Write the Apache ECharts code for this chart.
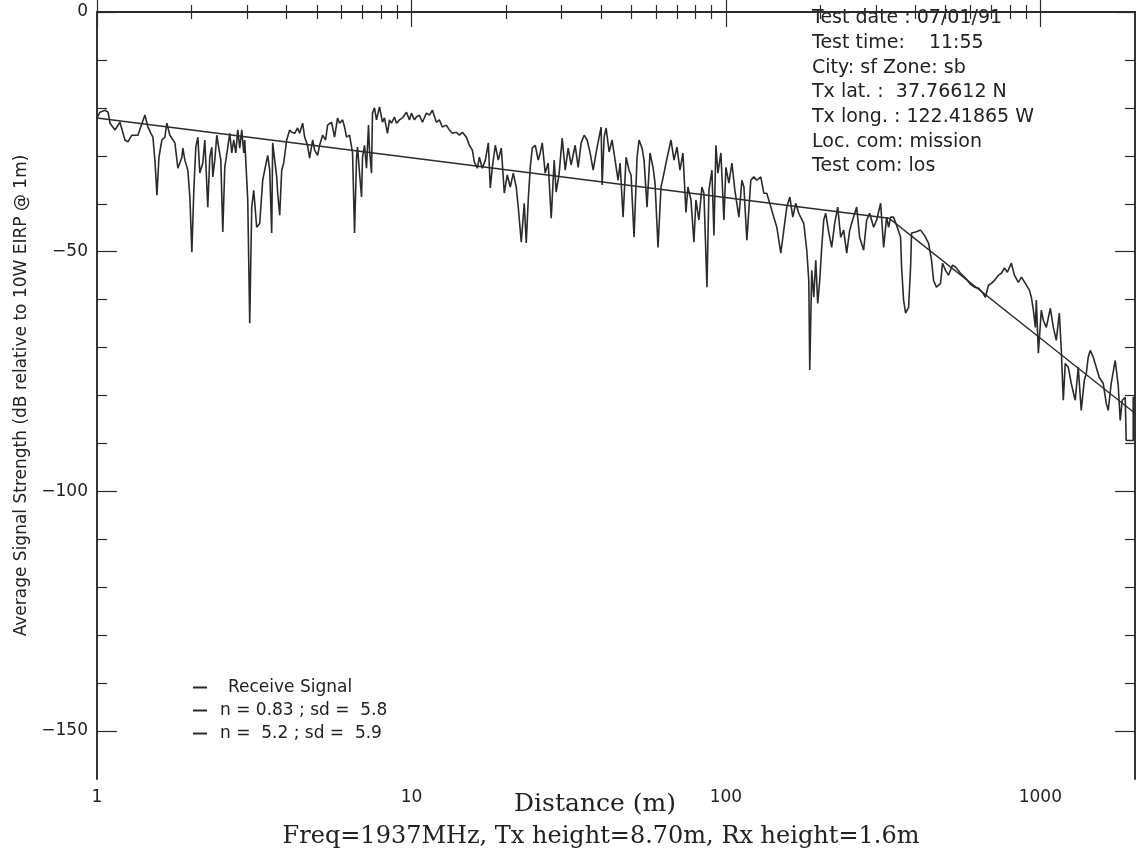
<!DOCTYPE html>
<html><head><meta charset="utf-8">
<script src="https://cdn.jsdelivr.net/npm/echarts@6/dist/echarts.min.js"></script>
<style>html,body{margin:0;padding:0;background:#fff}#c{width:1137px;height:848px}</style>
</head><body><div id="c"></div>
<script>
// Received signal: [distance (m), average signal strength (dB)]
const receiveSignal = [
[1.00,-22.1],[1.022,-20.9],[1.06,-20.5],[1.084,-20.9],[1.10,-23.2],[1.116,-23.0],[1.141,-24.6],[1.183,-23.0],
[1.227,-26.7],[1.254,-27.1],[1.291,-25.7],[1.349,-25.7],[1.42,-21.5],[1.452,-24.0],[1.484,-25.3],[1.506,-26.1],
[1.528,-30.9],[1.551,-38.2],[1.574,-30.3],[1.608,-26.7],[1.644,-26.1],[1.668,-23.2],[1.705,-25.7],[1.73,-25.3],
[1.769,-27.3],[1.808,-32.6],[1.862,-30.3],[1.875,-28.4],[1.903,-30.9],[1.945,-33.0],[1.974,-38.6],[2.003,-50.1],
[2.032,-37.2],[2.062,-28.2],[2.093,-26.1],[2.123,-33.6],[2.17,-31.5],[2.202,-26.7],[2.251,-40.7],[2.284,-30.3],
[2.318,-28.2],[2.335,-34.4],[2.369,-30.9],[2.404,-25.7],[2.44,-28.4],[2.476,-30.9],[2.512,-45.9],[2.549,-32.4],
[2.606,-28.2],[2.644,-25.3],[2.683,-29.4],[2.722,-26.7],[2.763,-29.4],[2.803,-24.6],[2.844,-28.4],[2.886,-24.6],
[2.929,-29.4],[2.95,-26.7],[3.016,-39.2],[3.06,-64.9],[3.105,-40.7],[3.151,-37.2],[3.22,-44.9],[3.292,-44.1],
[3.365,-35.1],[3.414,-33.0],[3.49,-29.9],[3.542,-33.0],[3.594,-46.1],[3.62,-27.3],[3.674,-30.9],[3.728,-34.4],
[3.755,-37.8],[3.811,-42.4],[3.867,-33.0],[3.924,-31.5],[4.011,-26.7],[4.10,-24.6],[4.16,-25.1],[4.253,-25.3],
[4.345,-24.2],[4.41,-25.3],[4.508,-23.2],[4.575,-26.1],[4.674,-27.8],[4.745,-30.5],[4.85,-26.7],[4.921,-28.8],
[5.03,-29.9],[5.104,-27.8],[5.218,-25.7],[5.333,-26.7],[5.412,-23.6],[5.572,-23.0],[5.695,-26.1],[5.822,-22.1],
[5.907,-23.2],[6.039,-22.5],[6.128,-24.0],[6.218,-26.1],[6.356,-25.7],[6.497,-29.4],[6.592,-46.1],[6.69,-30.3],
[6.739,-28.2],[6.838,-33.6],[6.939,-38.6],[6.989,-30.3],[7.092,-27.8],[7.196,-32.6],[7.302,-23.6],[7.356,-28.8],
[7.464,-33.6],[7.518,-21.1],[7.629,-20.0],[7.742,-22.5],[7.913,-19.8],[8.088,-23.0],[8.207,-22.1],[8.389,-25.3],
[8.513,-22.5],[8.638,-23.2],[8.831,-21.9],[8.962,-23.2],[9.161,-22.5],[9.363,-22.1],[9.641,-20.9],[9.856,-22.5],
[10.0,-21.1],[10.22,-22.5],[10.37,-21.9],[10.6,-21.5],[10.84,-23.0],[11.16,-21.1],[11.41,-21.5],[11.66,-20.5],
[12.0,-23.0],[12.27,-22.5],[12.54,-24.0],[12.91,-23.6],[13.2,-24.6],[13.49,-25.3],[13.9,-25.1],[14.2,-25.7],
[14.52,-25.1],[14.95,-26.1],[15.28,-27.8],[15.62,-28.8],[15.85,-31.3],[16.2,-32.6],[16.44,-30.3],[16.8,-32.6],
[17.18,-30.9],[17.56,-27.3],[17.81,-36.7],[18.08,-32.4],[18.48,-27.8],[18.89,-30.9],[19.31,-28.4],[19.74,-37.8],
[20.17,-34.0],[20.62,-36.5],[21.08,-33.6],[21.54,-36.5],[21.86,-40.7],[22.35,-48.0],[22.84,-39.9],[23.18,-48.2],
[23.52,-39.2],[23.87,-32.4],[24.22,-28.4],[24.76,-27.8],[25.3,-30.9],[25.68,-29.4],[26.06,-27.3],[26.63,-33.6],
[27.22,-31.5],[27.83,-43.0],[28.44,-30.9],[28.86,-37.6],[29.5,-33.6],[30.16,-26.3],[30.83,-33.0],[31.51,-28.4],
[32.2,-31.9],[33.16,-27.8],[33.9,-32.4],[34.65,-27.3],[35.42,-25.7],[36.2,-26.7],[37.01,-29.4],[37.83,-33.0],
[38.95,-28.2],[40.11,-24.0],[40.4,-36.1],[41.0,-26.1],[41.6,-24.2],[42.53,-29.2],[43.45,-26.7],[44.42,-30.9],
[45.41,-35.1],[46.08,-31.5],[47.1,-42.8],[48.15,-30.3],[49.21,-33.0],[49.94,-34.0],[51.04,-47.0],[52.18,-30.3],
[52.94,-26.7],[54.12,-28.4],[54.92,-30.9],[56.13,-40.7],[57.37,-29.4],[58.66,-32.4],[59.52,-35.7],[60.84,-49.1],
[62.18,-36.5],[63.56,-33.6],[64.97,-30.5],[66.9,-26.7],[68.38,-30.9],[69.89,-28.2],[71.45,-33.0],[73.02,-29.4],
[74.64,-41.8],[75.73,-36.5],[77.42,-39.2],[79.13,-48.0],[80.3,-39.2],[82.07,-43.4],[83.89,-36.5],[85.13,-37.8],
[87.05,-57.4],[88.31,-37.2],[90.28,-33.0],[91.61,-46.6],[92.96,-27.8],[94.33,-33.6],[96.41,-29.4],[98.56,-43.4],
[100,-32.4],[102.2,-35.7],[104.5,-31.5],[106.8,-37.2],[110,-42.8],[112.4,-35.1],[114.1,-36.5],[116.6,-47.6],
[120,-35.1],[122.7,-34.4],[125.4,-35.1],[129.1,-34.4],[132,-37.8],[134.9,-37.8],[139,-40.7],[142,-42.8],
[145.2,-44.9],[147.3,-47.6],[149.5,-50.3],[152.8,-45.5],[156.2,-40.7],[159.7,-38.6],[163.2,-42.8],[166.8,-39.9],
[170.5,-42.0],[173,-42.0],[176.9,-44.1],[180.8,-49.7],[183.5,-56.0],[184.8,-74.7],[187.5,-53.9],[190.3,-59.5],
[193.1,-51.8],[195.9,-60.8],[198.8,-56.0],[201.7,-49.1],[204.7,-43.4],[207.7,-42.0],[212.3,-45.9],[217,-49.1],
[221.8,-44.1],[226.8,-40.7],[231.8,-47.0],[236.9,-45.5],[242.2,-50.3],[247.6,-45.5],[253,-43.4],[260.6,-40.7],
[266.3,-47.0],[274.2,-49.7],[280.3,-43.4],[286.5,-42.0],[295,-44.9],[301.6,-43.4],[310.5,-39.9],[317.4,-49.1],
[324.4,-42.8],[329.2,-44.9],[334.1,-42.8],[341.4,-42.8],[349,-44.5],[359.4,-47.0],[362,-53.2],[367.4,-60.1],
[372.8,-62.8],[381.1,-61.6],[386.7,-53.2],[389.5,-46.1],[401.1,-45.9],[416,-45.5],[428.2,-46.6],[441,-48.2],
[450.8,-51.8],[457.5,-56.0],[467.4,-57.4],[481.5,-56.6],[488.6,-52.4],[499.4,-53.9],[510.4,-54.9],[525.6,-52.8],
[537.3,-53.2],[557.2,-54.5],[578,-55.5],[599.5,-56.8],[617.3,-57.4],[635.6,-57.6],[654.6,-58.5],[669,-59.5],
[683.8,-57.0],[698.9,-56.6],[714.5,-56.0],[735.6,-54.9],[751.8,-54.5],[768.6,-53.4],[785.6,-54.3],[808.8,-52.4],
[826.8,-54.9],[851.3,-56.4],[870.5,-55.3],[896.2,-56.6],[922.8,-58.0],[936.3,-59.5],[950.2,-62.2],[964.1,-65.8],
[971.2,-60.1],[985.6,-71.2],[1007,-62.2],[1022,-64.3],[1045,-65.8],[1076,-61.8],[1100,-65.8],[1124,-68.5],
[1149,-62.8],[1166,-70.6],[1183,-81.0],[1200,-73.3],[1227,-74.1],[1254,-77.5],[1291,-81.0],[1320,-74.1],
[1349,-83.1],[1380,-76.8],[1400,-75.4],[1420,-72.0],[1441,-70.6],[1473,-72.0],[1506,-74.1],[1539,-76.2],
[1585,-77.5],[1620,-81.6],[1644,-83.1],[1680,-77.5],[1730,-72.7],[1769,-77.9],[1795,-85.2],[1821,-81.0],
[1862,-80.4],[1875,-89.4],[1974,-89.4],[1974,-80.4],[2000,-80.4]
];
// Fitted path-loss lines: [distance (m), dB]
const fitNear = [[1,-22.1],[330,-43.0]];
const fitFar = [[330,-43.0],[2000,-83.7]];
const seriesNames = ['Receive Signal','n = 0.83 ; sd =  5.8','n =  5.2 ; sd =  5.9'];
const xMajorTicks = [1,10,100,1000];
const xMinorTicks = [2,3,4,5,6,7,8,9,20,30,40,50,60,70,80,90,200,300,400,500,600,700,800,900];
const yMajorTicks = [0,-50,-100,-150];
const yMinorTicks = [-10,-20,-30,-40,-60,-70,-80,-90,-110,-120,-130,-140];
const infoLines = ['Test date : 07/01/91','Test time:    11:55','City: sf Zone: sb','Tx lat. :  37.76612 N','Tx long. : 122.41865 W','Loc. com: mission','Test com: los'];
const xTitle = 'Distance (m)';
const yTitle = 'Average Signal Strength (dB relative to 10W EIRP @ 1m)';
const subTitle = 'Freq=1937MHz, Tx height=8.70m, Rx height=1.6m';

const INK = '#2b2b2b';
const SANS = '"DejaVu Sans", sans-serif';
const SERIF = '"DejaVu Serif", serif';
const lineStyle = {color: INK, width: 1.6};

function xAx(pos, ticks, len, withLabels) {
  const a = {
    type: 'log', logBase: 10, min: 1, max: 2000, position: pos,
    axisLine: {show: true, lineStyle: lineStyle},
    axisTick: {show: true, inside: true, length: len, customValues: ticks, lineStyle: {color: INK, width: 1.2}},
    axisLabel: {show: false},
    splitLine: {show: false}, minorTick: {show: false}
  };
  if (withLabels) {
    a.axisLabel = {show: true, customValues: ticks, color: '#222', fontFamily: SANS, fontSize: 17, margin: 10,
      formatter: v => String(v)};
    a.name = xTitle; a.nameLocation = 'middle'; a.nameGap = 13; a.nameMoveOverlap = false;
    a.nameTextStyle = {fontFamily: SERIF, fontSize: 25, color: '#222', padding: [0, 42, 0, 0]};
  }
  return a;
}
function yAx(pos, ticks, len, withLabels) {
  const a = {
    type: 'value', min: -160, max: 0, position: pos,
    axisLine: {show: true, lineStyle: lineStyle},
    axisTick: {show: true, inside: true, length: len, customValues: ticks, lineStyle: {color: INK, width: 1.2}},
    axisLabel: {show: false},
    splitLine: {show: false}
  };
  if (withLabels) {
    a.axisLabel = {show: true, customValues: ticks, color: '#222', fontFamily: SANS, fontSize: 17, margin: 9,
      formatter: v => v < 0 ? '\u2212' + Math.abs(v) : String(v)};
    a.name = yTitle; a.nameLocation = 'middle'; a.nameRotate = 90; a.nameGap = 67; a.nameMoveOverlap = false;
    a.nameTextStyle = {fontFamily: SANS, fontSize: 17, color: '#222'};
  }
  return a;
}

const chart = echarts.init(document.getElementById('c'), null, {renderer: 'canvas'});
chart.setOption({
  backgroundColor: '#fff',
  animation: false,
  grid: {left: 97, right: 2, top: 12, bottom: 69, containLabel: false, outerBoundsMode: 'none'},
  title: {text: subTitle, left: 596, textAlign: 'center', top: 820,
    textStyle: {fontFamily: SERIF, fontSize: 24, fontWeight: 'normal', color: '#222'}},
  legend: {
    orient: 'vertical', left: 188, top: 674, icon: 'rect', itemWidth: 14, itemHeight: 2, itemGap: 6,
    textStyle: {fontFamily: SANS, fontSize: 17, color: '#222', padding: [0, 0, 0, 8]},
    data: [
      {name: seriesNames[0], textStyle: {padding: [0, 0, 0, 16]}},
      {name: seriesNames[1]},
      {name: seriesNames[2]}
    ]
  },
  graphic: [{
    type: 'text', left: 812, top: 6, silent: true,
    style: {text: infoLines.join('\n'), font: '19px ' + SANS, fill: '#222', lineHeight: 24.7}
  }],
  xAxis: [xAx('bottom', xMajorTicks, 15, true), xAx('bottom', xMinorTicks, 7, false),
          xAx('top', xMajorTicks, 15, false), xAx('top', xMinorTicks, 7, false)],
  yAxis: [yAx('left', yMajorTicks, 20, true), yAx('left', yMinorTicks, 10, false),
          yAx('right', yMajorTicks, 20, false), yAx('right', yMinorTicks, 10, false)],
  series: [
    {name: seriesNames[0], type: 'line', data: receiveSignal, showSymbol: false, symbol: 'none',
     lineStyle: {color: INK, width: 1.6}, itemStyle: {color: INK}, z: 3},
    {name: seriesNames[1], type: 'line', data: fitNear, showSymbol: false, symbol: 'none',
     lineStyle: {color: INK, width: 1.5}, itemStyle: {color: INK}, z: 4},
    {name: seriesNames[2], type: 'line', data: fitFar, showSymbol: false, symbol: 'none',
     lineStyle: {color: INK, width: 1.3}, itemStyle: {color: INK}, z: 4}
  ]
});
</script></body></html>
